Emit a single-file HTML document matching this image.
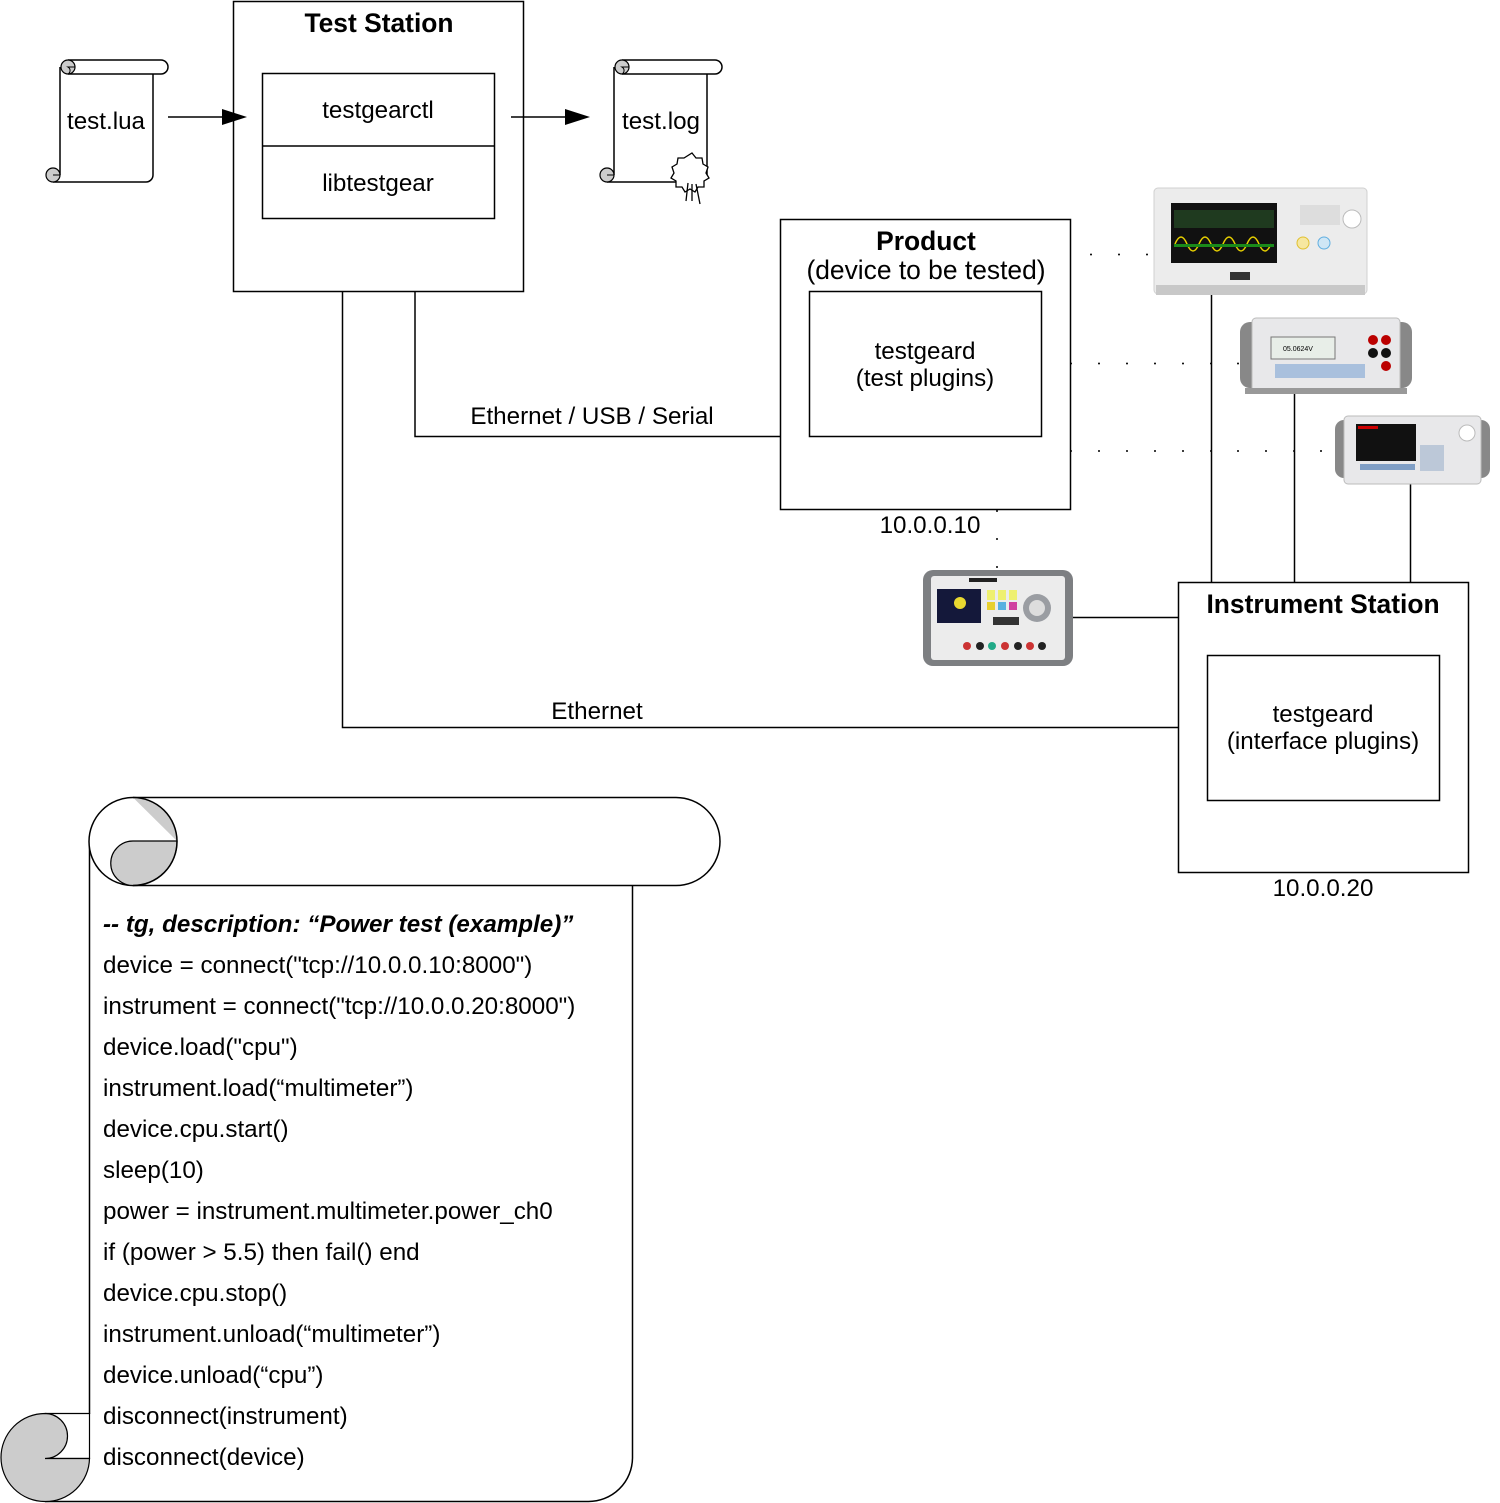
<!DOCTYPE html>
<html><head><meta charset="utf-8"><style>
html,body{margin:0;padding:0;background:#fff;}
svg{display:block;font-family:"Liberation Sans",sans-serif;}
</style></head><body>
<svg width="1500" height="1503" viewBox="0 0 1500 1503" xmlns="http://www.w3.org/2000/svg">
<rect x="0" y="0" width="1500" height="1503" fill="#fff"/>
<g transform="translate(60,60)">
  <path d="M0,7 L0,115 M93,14 L93,115 A7,7 0 0 1 86,122 L-7,122" stroke="#000" stroke-width="1.5" fill="none"/>
  <path d="M8,0 L101,0 A7,7 0 0 1 101,14 L8,14" fill="#fff" stroke="#000" stroke-width="1.5"/>
  <circle cx="8" cy="7" r="7" fill="#ccc" stroke="#000" stroke-width="1.2"/>
  <path d="M8,14 A4,4 0 0 0 8,7 L15,7" fill="none" stroke="#000" stroke-width="1"/>
  <circle cx="-7" cy="115" r="7" fill="#ccc" stroke="#000" stroke-width="1.2"/>
  <path d="M-7,115 L0,115" stroke="#000" stroke-width="1"/>
</g>
<text x="106" y="129" font-size="24.2" text-anchor="middle">test.lua</text>
<g transform="translate(614,60)">
  <path d="M0,7 L0,115 M93,14 L93,115 A7,7 0 0 1 86,122 L-7,122" stroke="#000" stroke-width="1.5" fill="none"/>
  <path d="M8,0 L101,0 A7,7 0 0 1 101,14 L8,14" fill="#fff" stroke="#000" stroke-width="1.5"/>
  <circle cx="8" cy="7" r="7" fill="#ccc" stroke="#000" stroke-width="1.2"/>
  <path d="M8,14 A4,4 0 0 0 8,7 L15,7" fill="none" stroke="#000" stroke-width="1"/>
  <circle cx="-7" cy="115" r="7" fill="#ccc" stroke="#000" stroke-width="1.2"/>
  <path d="M-7,115 L0,115" stroke="#000" stroke-width="1"/>
  <path d="M78,93 l4,5 6,0 1,6 5,3 -2,6 3,5 -5,3 0,6 -6,0 -3,5 -5,-3 -5,3 -3,-5 -6,0 0,-6 -5,-3 3,-5 -2,-6 5,-3 1,-6 6,0 z" fill="#fff" stroke="#000" stroke-width="1.3"/>
  <path d="M74,123 l-2,18 M78,124 l0,17 M82,124 l4,20" stroke="#000" stroke-width="1.3" fill="none"/>
</g>
<text x="661" y="129" font-size="24.2" text-anchor="middle">test.log</text>
<path d="M168,117 L228,117" stroke="#000" stroke-width="1.5"/>
<path d="M222,109 L247,117 L222,125 Z" fill="#000"/>
<path d="M511,117 L570,117" stroke="#000" stroke-width="1.5"/>
<path d="M565,109 L590,117 L565,125 Z" fill="#000"/>
<rect x="233.5" y="1.5" width="290" height="290" fill="none" stroke="#000" stroke-width="1.5"/>
<text x="379" y="32" font-size="26.4" font-weight="bold" text-anchor="middle">Test Station</text>
<rect x="262.5" y="73.5" width="232" height="145" fill="none" stroke="#000" stroke-width="1.5"/>
<path d="M262,146 L495,146" stroke="#000" stroke-width="1.5"/>
<text x="378" y="118" font-size="24.2" text-anchor="middle">testgearctl</text>
<text x="378" y="191" font-size="24.2" text-anchor="middle">libtestgear</text>
<path d="M415,291 L415,436.5 L780,436.5" fill="none" stroke="#000" stroke-width="1.5"/>
<text x="592" y="424" font-size="24.2" text-anchor="middle">Ethernet / USB / Serial</text>
<path d="M342.5,291 L342.5,727.5 L1178,727.5" fill="none" stroke="#000" stroke-width="1.5"/>
<text x="597" y="719" font-size="24.2" text-anchor="middle">Ethernet</text>
<rect x="780.5" y="219.5" width="290" height="290" fill="none" stroke="#000" stroke-width="1.5"/>
<text x="926" y="250" font-size="26.4" font-weight="bold" text-anchor="middle">Product</text>
<text x="926" y="279" font-size="26.4" text-anchor="middle">(device to be tested)</text>
<rect x="809.5" y="291.5" width="232" height="145" fill="none" stroke="#000" stroke-width="1.5"/>
<text x="925" y="359" font-size="24.2" text-anchor="middle">testgeard</text>
<text x="925" y="386" font-size="24.2" text-anchor="middle">(test plugins)</text>
<text x="930" y="533" font-size="24.2" text-anchor="middle">10.0.0.10</text>
<rect x="1178.5" y="582.5" width="290" height="290" fill="none" stroke="#000" stroke-width="1.5"/>
<text x="1323" y="613" font-size="26.4" font-weight="bold" text-anchor="middle">Instrument Station</text>
<rect x="1207.5" y="655.5" width="232" height="145" fill="none" stroke="#000" stroke-width="1.5"/>
<text x="1323" y="722" font-size="24.2" text-anchor="middle">testgeard</text>
<text x="1323" y="749" font-size="24.2" text-anchor="middle">(interface plugins)</text>
<text x="1323" y="896" font-size="24.2" text-anchor="middle">10.0.0.20</text>
<path d="M1211.5,292 L1211.5,582 M1294.5,389 L1294.5,582 M1410.5,484 L1410.5,582 M1065,617.5 L1178,617.5" stroke="#000" stroke-width="1.5" fill="none"/>
<g fill="#000">
<circle cx="1091" cy="254.5" r="1"/><circle cx="1119" cy="254.5" r="1"/><circle cx="1147" cy="254.5" r="1"/>
<circle cx="1071" cy="363.5" r="1"/><circle cx="1099" cy="363.5" r="1"/><circle cx="1127" cy="363.5" r="1"/><circle cx="1155" cy="363.5" r="1"/><circle cx="1183" cy="363.5" r="1"/><circle cx="1211" cy="363.5" r="1"/><circle cx="1238" cy="363.5" r="1"/>
<circle cx="1071" cy="451" r="1"/><circle cx="1099" cy="451" r="1"/><circle cx="1127" cy="451" r="1"/><circle cx="1155" cy="451" r="1"/><circle cx="1183" cy="451" r="1"/><circle cx="1211" cy="451" r="1"/><circle cx="1238" cy="451" r="1"/><circle cx="1266" cy="451" r="1"/><circle cx="1294" cy="451" r="1"/><circle cx="1321" cy="451" r="1"/>
<circle cx="997" cy="511" r="1"/><circle cx="997" cy="539" r="1"/><circle cx="997" cy="567" r="1"/>
</g>
<g>
<rect x="1154" y="188" width="213" height="106" rx="4" fill="#ececec" stroke="#d0d0d0"/>
<rect x="1156" y="285" width="209" height="10" fill="#c8c8c8"/>
<rect x="1171" y="203" width="106" height="60" fill="#111"/>
<path d="M1175,244 q6,-14 12,0 t12,0 t12,0 t12,0 t12,0 t12,0 t12,0 t12,0" stroke="#e8d000" fill="none" stroke-width="1.5"/>
<rect x="1174" y="244" width="100" height="3" fill="#1a8a1a"/>
<rect x="1174" y="210" width="100" height="18" fill="#1f3a1f"/>
<circle cx="1352" cy="219" r="9" fill="#fff" stroke="#bbb"/>
<circle cx="1303" cy="243" r="6" fill="#f6e7a0" stroke="#e0c030"/><circle cx="1324" cy="243" r="6" fill="#cfe6f5" stroke="#60aee0"/>
<rect x="1300" y="205" width="40" height="20" fill="#ddd"/>
<rect x="1230" y="272" width="20" height="8" fill="#333"/>
</g>
<g>
<rect x="1240" y="322" width="172" height="66" rx="10" fill="#888"/>
<rect x="1252" y="318" width="148" height="74" rx="4" fill="#e8e8ea" stroke="#bbb"/>
<rect x="1271" y="337" width="64" height="22" fill="#e8eee8" stroke="#777"/>
<text x="1283" y="351" font-size="7">05.0624V</text>
<circle cx="1373" cy="340" r="5" fill="#b00"/><circle cx="1386" cy="340" r="5" fill="#b00"/>
<circle cx="1373" cy="353" r="5" fill="#111"/><circle cx="1386" cy="353" r="5" fill="#111"/><circle cx="1386" cy="366" r="5" fill="#b00"/>
<rect x="1275" y="364" width="90" height="14" fill="#a9c0dd"/>
<rect x="1245" y="388" width="162" height="6" fill="#999"/>
</g>
<g>
<rect x="1335" y="420" width="155" height="58" rx="9" fill="#888"/>
<rect x="1344" y="416" width="137" height="68" rx="4" fill="#e8e8ea" stroke="#bbb"/>
<rect x="1356" y="424" width="60" height="37" fill="#111"/>
<rect x="1358" y="426" width="20" height="3" fill="#c00"/>
<rect x="1420" y="445" width="24" height="26" fill="#bcc8d8"/>
<circle cx="1467" cy="433" r="8" fill="#fff" stroke="#bbb"/>
<rect x="1360" y="464" width="55" height="6" fill="#7f9ec5"/>
</g>
<g>
<rect x="923" y="570" width="150" height="96" rx="10" fill="#7d7f82"/>
<rect x="931" y="576" width="134" height="84" rx="3" fill="#ececec"/>
<rect x="937" y="589" width="44" height="34" fill="#14183a"/>
<circle cx="960" cy="603" r="6" fill="#e9d830"/>
<rect x="987" y="590" width="8" height="10" fill="#eef070"/><rect x="998" y="590" width="8" height="10" fill="#eef070"/><rect x="1009" y="590" width="8" height="10" fill="#eef070"/>
<rect x="987" y="602" width="8" height="8" fill="#e8d030"/><rect x="998" y="602" width="8" height="8" fill="#5ab0e0"/><rect x="1009" y="602" width="8" height="8" fill="#d040a0"/>
<circle cx="1037" cy="608" r="14" fill="#9a9da2"/><circle cx="1037" cy="608" r="8" fill="#ddd"/>
<rect x="993" y="617" width="26" height="8" fill="#333"/>
<circle cx="967" cy="646" r="4" fill="#c33"/><circle cx="980" cy="646" r="4" fill="#222"/><circle cx="992" cy="646" r="4" fill="#2a8"/><circle cx="1005" cy="646" r="4" fill="#c33"/><circle cx="1018" cy="646" r="4" fill="#222"/><circle cx="1030" cy="646" r="4" fill="#c33"/><circle cx="1042" cy="646" r="4" fill="#222"/>
<rect x="969" y="578" width="28" height="4" fill="#222"/>
</g>
<path d="M89.5,1414 L89.5,841" stroke="#000" stroke-width="1.5" fill="none"/>
<path d="M133,797.5 L676,797.5 A44,44 0 0 1 676,885.5 L133,885.5 A44,44 0 0 1 133,797.5 Z" fill="#fff" stroke="#000" stroke-width="1.5"/>
<path d="M133,797.5 L177,841 A44,44 0 0 0 133,797.5 Z" fill="#ccc"/>
<path d="M177,841 L133,841 A22,22 0 0 0 133,885.5 A44,44 0 0 0 177,841 Z" fill="#ccc" stroke="#000" stroke-width="1.2"/>
<path d="M133,885.5 A44,44 0 0 0 177,841 A44,44 0 0 0 133,797.5" fill="none" stroke="#000" stroke-width="1.5"/>
<path d="M632.5,885 L632.5,1458 A44,44 0 0 1 588,1501.5 L45,1501.5" fill="none" stroke="#000" stroke-width="1.5"/>
<path d="M45,1413.5 L89.5,1413.5 L89.5,1458.5 L45,1458.5" fill="none" stroke="#000" stroke-width="1.2"/>
<path d="M45,1413.5 A22,22 0 0 1 45,1458.5 L89.5,1458.5 A44,44 0 0 1 45,1501.5 A44,44 0 0 1 45,1413.5 Z" fill="#ccc" stroke="#000" stroke-width="1.2"/>
<g font-size="24.2">
<text x="103" y="932" font-weight="bold" font-style="italic">-- tg, description: “Power test (example)”</text>
<text x="103" y="973">device = connect("tcp://10.0.0.10:8000")</text>
<text x="103" y="1014">instrument = connect("tcp://10.0.0.20:8000")</text>
<text x="103" y="1055">device.load("cpu")</text>
<text x="103" y="1096">instrument.load(“multimeter”)</text>
<text x="103" y="1137">device.cpu.start()</text>
<text x="103" y="1178">sleep(10)</text>
<text x="103" y="1219">power = instrument.multimeter.power_ch0</text>
<text x="103" y="1260">if (power &gt; 5.5) then fail() end</text>
<text x="103" y="1301">device.cpu.stop()</text>
<text x="103" y="1342">instrument.unload(“multimeter”)</text>
<text x="103" y="1383">device.unload(“cpu”)</text>
<text x="103" y="1424">disconnect(instrument)</text>
<text x="103" y="1465">disconnect(device)</text>
</g>
</svg>
</body></html>
